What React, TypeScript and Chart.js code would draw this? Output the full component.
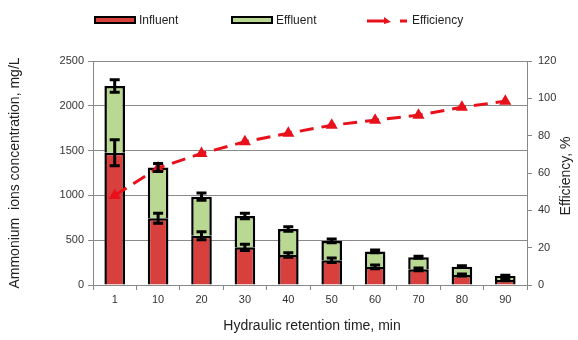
import React, { useEffect, useRef } from "react";
import { Chart, registerables } from "chart.js";

Chart.register(...registerables);

const categories = ["1", "10", "20", "30", "40", "50", "60", "70", "80", "90"];
const influent = [1475, 745, 550, 420, 335, 275, 202, 175, 112, 56];
const effluentSegment = [747, 567, 436, 350, 290, 217, 173, 135, 93, 44];
const influentErr = [145, 55, 45, 35, 25, 25, 20, 15, 12, 8];
const effluentErr = [70, 45, 40, 30, 25, 20, 15, 12, 10, 8];
const efficiency = [48, 62.7, 70.5, 76.7, 81.3, 85.6, 88.3, 91, 95.2, 98.5];
const leftTicks = [0, 500, 1000, 1500, 2000, 2500];
const rightTicks = [0, 20, 40, 60, 80, 100, 120];

const RED = "#d7403d";
const GREEN = "#b9d891";
const LINE_RED = "#e8101a";
const FONT = "'Liberation Sans', Arial, sans-serif";

const errorBarPlugin = {
  id: "errorBars",
  afterDatasetsDraw(chart: any) {
    const ctx = chart.ctx;
    const y = chart.scales.y;
    const errs = [influentErr, effluentErr];
    ctx.save();
    ctx.strokeStyle = "#000";
    ctx.lineWidth = 3;
    [0, 1].forEach((di) => {
      const meta = chart.getDatasetMeta(di);
      meta.data.forEach((bar: any, i: number) => {
        const topVal = di === 0 ? influent[i] : influent[i] + effluentSegment[i];
        const e = errs[di][i];
        const x = bar.x;
        const y1 = y.getPixelForValue(topVal + e);
        const y2 = y.getPixelForValue(topVal - e);
        ctx.beginPath();
        ctx.moveTo(x, y1);
        ctx.lineTo(x, y2);
        ctx.moveTo(x - 5, y1);
        ctx.lineTo(x + 5, y1);
        ctx.moveTo(x - 5, y2);
        ctx.lineTo(x + 5, y2);
        ctx.stroke();
      });
    });
    ctx.restore();
  },
};

const decorPlugin = {
  id: "decor",
  afterDraw(chart: any) {
    const ctx = chart.ctx;
    ctx.save();
    ctx.fillStyle = "#222";
    ctx.font = `14px ${FONT}`;
    ctx.textAlign = "center";
    ctx.textBaseline = "middle";
    ctx.save();
    ctx.translate(15, 173);
    ctx.rotate(-Math.PI / 2);
    ctx.fillText("Ammonium  ions concentration, mg/L", 0, 0);
    ctx.restore();
    ctx.save();
    ctx.translate(566, 176);
    ctx.rotate(-Math.PI / 2);
    ctx.fillText("Efficiency, %", 0, 0);
    ctx.restore();
    ctx.fillText("Hydraulic retention time, min", 312, 326);

    ctx.font = `12px ${FONT}`;
    ctx.textAlign = "left";
    const boxes = [
      { x: 95, color: RED, label: "Influent", tx: 139 },
      { x: 232, color: GREEN, label: "Effluent", tx: 276 },
    ];
    boxes.forEach((b) => {
      ctx.fillStyle = b.color;
      ctx.strokeStyle = "#000";
      ctx.lineWidth = 2;
      ctx.fillRect(b.x, 17, 40, 6);
      ctx.strokeRect(b.x, 17, 40, 6);
      ctx.fillStyle = "#222";
      ctx.fillText(b.label, b.tx, 21);
    });
    ctx.strokeStyle = LINE_RED;
    ctx.lineWidth = 3;
    ctx.beginPath();
    ctx.moveTo(367, 21);
    ctx.lineTo(385, 21);
    ctx.moveTo(400, 21);
    ctx.lineTo(407, 21);
    ctx.stroke();
    ctx.fillStyle = LINE_RED;
    ctx.beginPath();
    ctx.moveTo(384, 17);
    ctx.lineTo(391, 22);
    ctx.lineTo(384, 24);
    ctx.closePath();
    ctx.fill();
    ctx.fillStyle = "#222";
    ctx.fillText("Efficiency", 412, 21);
    ctx.restore();
  },
};

export default function App() {
  const ref = useRef<HTMLCanvasElement>(null);
  useEffect(() => {
    if (!ref.current) return;
    const chart = new Chart(ref.current, {
      type: "bar",
      data: {
        labels: categories,
        datasets: [
          {
            label: "Influent",
            data: influent,
            backgroundColor: RED,
            borderColor: "#000",
            borderWidth: 2.5,
            barPercentage: 0.95,
            categoryPercentage: 0.5,
            yAxisID: "y",
            stack: "s",
            order: 2,
          },
          {
            label: "Effluent",
            data: effluentSegment,
            backgroundColor: GREEN,
            borderColor: "#000",
            borderWidth: 2.5,
            barPercentage: 0.95,
            categoryPercentage: 0.5,
            yAxisID: "y",
            stack: "s",
            order: 2,
          },
          {
            type: "line",
            label: "Efficiency",
            data: efficiency,
            yAxisID: "y1",
            borderColor: LINE_RED,
            backgroundColor: LINE_RED,
            borderWidth: 3,
            borderDash: [14, 8],
            pointStyle: "triangle",
            pointRadius: 7,
            pointBorderWidth: 0,
            tension: 0,
            order: 1,
          } as any,
        ],
      },
      options: {
        animation: false,
        responsive: false,
        maintainAspectRatio: false,
        layout: { padding: { top: 61, left: 0, right: 0, bottom: 0 } },
        plugins: {
          legend: { display: false },
          tooltip: { enabled: false },
        },
        scales: {
          x: {
            stacked: true,
            offset: true,
            afterFit: (s: any) => {
              s.height = 55;
            },
            grid: {
              offset: true,
              drawOnChartArea: false,
              drawTicks: true,
              tickLength: 5,
              color: "#888",
            },
            border: { color: "#888", width: 1 },
            ticks: { font: { family: FONT, size: 11 }, color: "#333", padding: 3 },
          },
          y: {
            stacked: true,
            position: "left",
            min: 0,
            max: 2500,
            afterFit: (s: any) => {
              s.width = 93;
            },
            afterBuildTicks: (s: any) => {
              s.ticks = leftTicks.map((v) => ({ value: v }));
            },
            grid: { color: "#8a8a8a", tickLength: 5, lineWidth: 1 },
            border: { color: "#888", width: 1 },
            ticks: {
              font: { family: FONT, size: 11 },
              color: "#333",
              padding: 4,
              callback: (v: any) => String(v),
            },
          },
          y1: {
            position: "right",
            min: 0,
            max: 120,
            afterFit: (s: any) => {
              s.width = 51;
            },
            afterBuildTicks: (s: any) => {
              s.ticks = rightTicks.map((v) => ({ value: v }));
            },
            grid: { drawOnChartArea: false, tickLength: 5, color: "#888" },
            border: { color: "#888", width: 1 },
            ticks: {
              font: { family: FONT, size: 11 },
              color: "#333",
              padding: 6,
              callback: (v: any) => String(v),
            },
          },
        },
      },
      plugins: [errorBarPlugin, decorPlugin],
    });
    return () => chart.destroy();
  }, []);
  return (
    <div style={{ position: "fixed", left: 0, top: 0, width: 578, height: 340, background: "#fff" }}>
      <canvas ref={ref} width={578} height={340} style={{ display: "block" }} />
    </div>
  );
}
